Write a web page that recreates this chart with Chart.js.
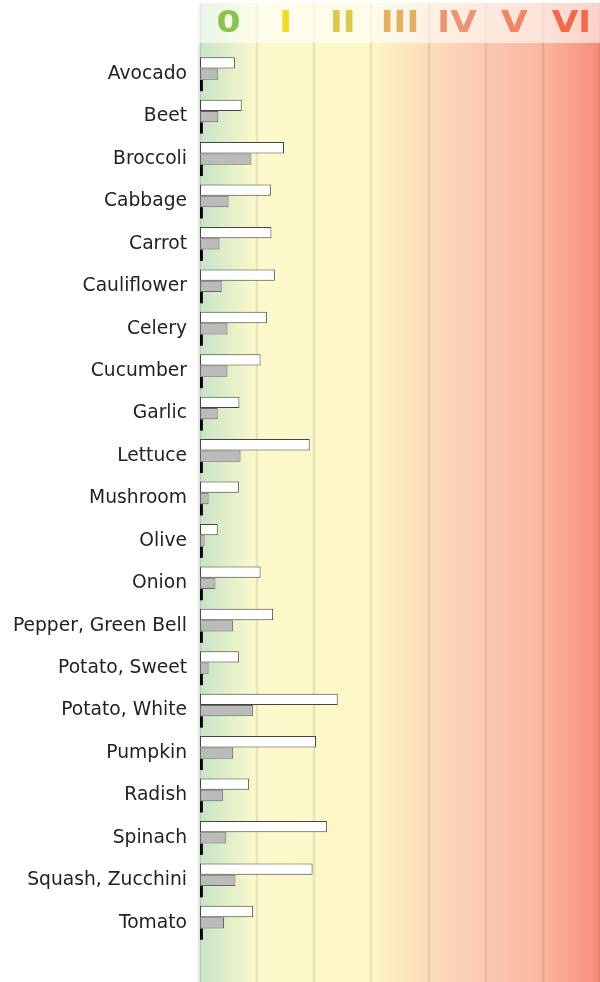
<!DOCTYPE html>
<html>
<head>
<meta charset="utf-8">
<script src="https://cdn.jsdelivr.net/npm/chart.js@4/dist/chart.umd.min.js"></script>
<style>
  html, body { margin: 0; padding: 0; background: #fff; }
  canvas { display: block; }
</style>
</head>
<body>
<canvas id="chart" width="600" height="982"></canvas>
<script>
const categories = ['Avocado', 'Beet', 'Broccoli', 'Cabbage', 'Carrot', 'Cauliflower', 'Celery',
  'Cucumber', 'Garlic', 'Lettuce', 'Mushroom', 'Olive', 'Onion', 'Pepper, Green Bell',
  'Potato, Sweet', 'Potato, White', 'Pumpkin', 'Radish', 'Spinach', 'Squash, Zucchini', 'Tomato'];

// three series (scale 0..7)
const whiteValues = [0.61, 0.73, 1.47, 1.24, 1.25, 1.31, 1.17, 1.06, 0.69, 1.92, 0.68,
  0.31, 1.06, 1.28, 0.68, 2.41, 2.03, 0.86, 2.22, 1.97, 0.93];
const grayValues = [0.32, 0.32, 0.90, 0.50, 0.34, 0.38, 0.48, 0.48, 0.31, 0.71, 0.15,
  0.08, 0.27, 0.58, 0.15, 0.93, 0.58, 0.40, 0.46, 0.62, 0.42];
const blackValues = [0.05, 0.05, 0.05, 0.05, 0.05, 0.05, 0.05, 0.05, 0.05, 0.05, 0.05,
  0.05, 0.05, 0.05, 0.05, 0.05, 0.05, 0.05, 0.05, 0.05, 0.05];

const zoneLabels = ['0', 'I', 'II', 'III', 'IV', 'V', 'VI'];
const zoneColors = ['#8cc34c', '#f0dc28', '#dcc84c', '#e2b064', '#ea9676', '#f08464', '#f26a4c'];

// background zones + header
const zones = {
  id: 'zones',
  beforeDatasetsDraw(chart) {
    const ctx = chart.ctx;
    const x = chart.scales.x;
    const left = x.getPixelForValue(0);
    const right = x.getPixelForValue(7);
    const top = 3, bottom = chart.height;
    ctx.save();
    const g = ctx.createLinearGradient(left, 0, right, 0);
    g.addColorStop(0, '#c6e4c6');
    g.addColorStop(1 / 7, '#fdf9cc');
    g.addColorStop(3 / 7, '#fdf6c6');
    g.addColorStop(4 / 7, '#fcdcba');
    g.addColorStop(5 / 7, '#fcc8b0');
    g.addColorStop(6 / 7, '#fbb6a0');
    g.addColorStop(1, '#f78c78');
    ctx.fillStyle = g;
    ctx.fillRect(left, top, right - left, bottom - top);

    // grid lines
    ctx.strokeStyle = 'rgba(0,0,0,0.08)';
    ctx.lineWidth = 2.5;
    for (let i = 1; i <= 7; i++) {
      const px = Math.round(x.getPixelForValue(i));
      ctx.beginPath();
      ctx.moveTo(px, top);
      ctx.lineTo(px, bottom);
      ctx.stroke();
    }
    ctx.fillStyle = 'rgba(0,0,0,0.1)';
    ctx.fillRect(left - 2, top, 3, bottom - top);

    // header band
    ctx.fillStyle = 'rgba(255,255,255,0.6)';
    ctx.fillRect(left - 2, top, right - left + 2, 40);
    ctx.font = 'bold 30px "DejaVu Sans"';
    ctx.textAlign = 'center';
    ctx.textBaseline = 'middle';
    zoneLabels.forEach((lbl, i) => {
      ctx.save();
      ctx.translate(x.getPixelForValue(i + 0.5), 24);
      ctx.scale(1.15, 1);
      ctx.fillStyle = zoneColors[i];
      ctx.fillText(lbl, 0, 0);
      ctx.restore();
    });
    ctx.restore();
  }
};

new Chart(document.getElementById('chart'), {
  type: 'bar',
  data: {
    labels: categories,
    datasets: [
      { data: whiteValues, backgroundColor: '#ffffff', borderColor: '#444', borderWidth: 1, borderSkipped: false },
      { data: grayValues, backgroundColor: '#bbbbbb', borderColor: '#666', borderWidth: 1, borderSkipped: false },
      { data: blackValues, backgroundColor: '#000000', borderWidth: 0 }
    ]
  },
  options: {
    indexAxis: 'y',
    responsive: false,
    animation: false,
    layout: { padding: { top: 53, bottom: 38, left: 0, right: 0 } },
    datasets: { bar: { categoryPercentage: 0.8, barPercentage: 1.0 } },
    plugins: { legend: { display: false }, tooltip: { enabled: false } },
    scales: {
      x: { display: false, min: 0, max: 7 },
      y: {
        grid: { display: false, drawTicks: false },
        border: { display: false },
        afterFit(scale) { scale.width = 200; },
        ticks: {
          padding: 13,
          color: '#222',
          font: { family: '"DejaVu Sans"', size: 18.7 }
        }
      }
    }
  },
  plugins: [zones]
});
</script>
</body>
</html>
